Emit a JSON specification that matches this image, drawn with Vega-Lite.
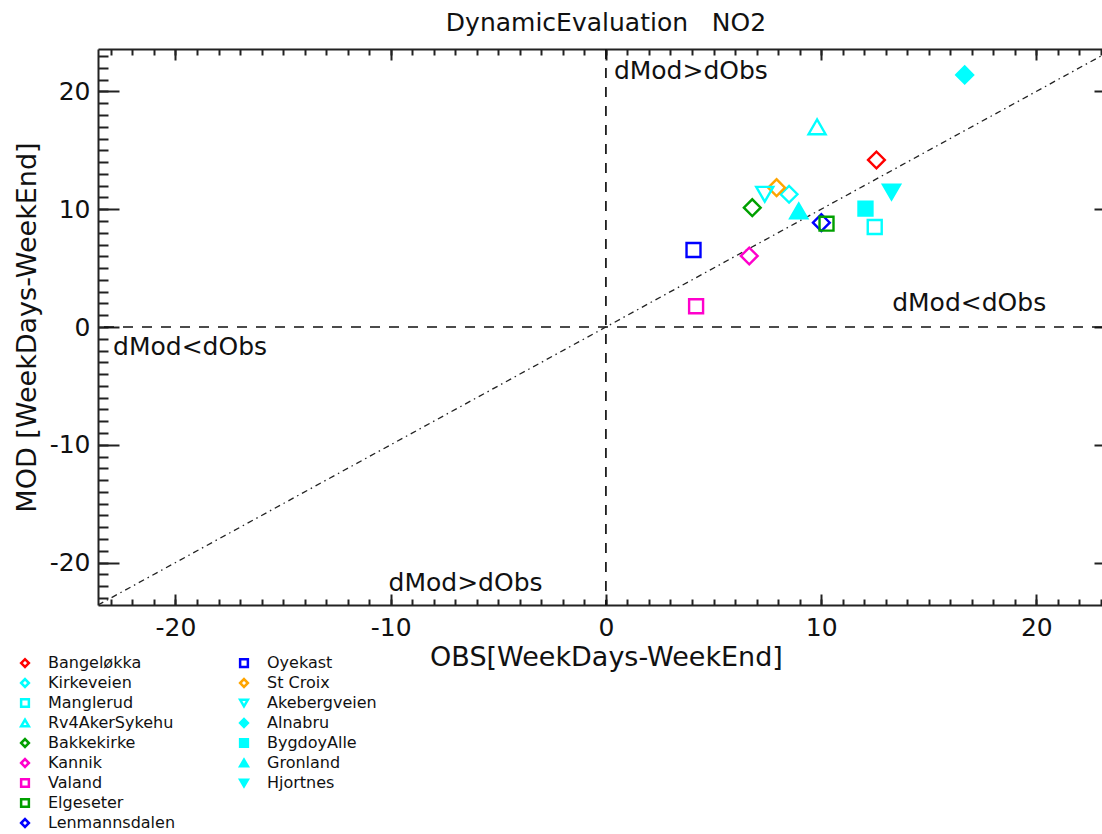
{
  "$schema": "https://vega.github.io/schema/vega-lite/v6.json",
  "width": 1004,
  "height": 556,
  "autosize": "none",
  "padding": {"left": 98, "top": 49, "right": 0, "bottom": 229},
  "background": "white",
  "title": {
    "text": "DynamicEvaluation\u00a0\u00a0\u00a0NO2",
    "font": "DejaVu Sans",
    "fontSize": 25,
    "fontWeight": "normal",
    "color": "#111",
    "anchor": "middle",
    "dx": 6,
    "offset": 12
  },
  "config": {
    "view": {"stroke": null},
    "axis": {
      "grid": false,
      "domainColor": "#222",
      "domainWidth": 2,
      "tickColor": "#222",
      "tickWidth": 2,
      "labelFont": "DejaVu Sans",
      "labelFontSize": 25,
      "labelColor": "#111",
      "titleFont": "DejaVu Sans",
      "titleFontSize": 27,
      "titleFontWeight": "normal",
      "titleColor": "#111"
    },
    "legend": {
      "title": null,
      "orient": "none",
      "legendX": -81,
      "legendY": 606,
      "columns": 2,
      "columnPadding": 59,
      "rowPadding": 2,
      "symbolSize": 60,
      "symbolStrokeWidth": 2.5,
      "labelOffset": 15,
      "labelFont": "DejaVu Sans",
      "labelFontSize": 16,
      "labelColor": "#111"
    }
  },
  "resolve": {"axis": {"x": "independent", "y": "independent"}},
  "layer": [
    {
      "data": {"values": [{"v": 0}]},
      "mark": {"type": "rule", "strokeDash": [10, 9], "strokeWidth": 1.7, "color": "#111"},
      "encoding": {
        "x": {
          "field": "v", "type": "quantitative",
          "scale": {"domain": [-23.6, 23.05], "nice": false, "zero": false},
          "axis": {
            "orient": "top", "title": null, "labels": false, "domain": true,
            "values": [-23,-22,-21,-20,-19,-18,-17,-16,-15,-14,-13,-12,-11,-10,-9,-8,-7,-6,-5,-4,-3,-2,-1,0,1,2,3,4,5,6,7,8,9,10,11,12,13,14,15,16,17,18,19,20,21,22,23],
            "tickSize": -6
          }
        }
      }
    },
    {
      "data": {"values": [{"v": 0}]},
      "mark": {"type": "rule", "strokeDash": [10, 9], "strokeWidth": 1.7, "color": "#111"},
      "encoding": {
        "y": {
          "field": "v", "type": "quantitative",
          "scale": {"domain": [-23.6, 23.6], "nice": false, "zero": false},
          "axis": {
            "orient": "right", "title": null, "labels": false, "domain": false,
            "values": [-20, -10, 0, 10, 20],
            "tickSize": -8
          }
        }
      }
    },
    {
      "data": {"values": [{"obs": -23.6, "mod": -23.6}, {"obs": 23.6, "mod": 23.6}]},
      "mark": {"type": "line", "clip": true, "strokeDash": [6, 4, 1.5, 4], "strokeWidth": 1.3, "color": "#222"},
      "encoding": {
        "x": {
          "field": "obs", "type": "quantitative",
          "scale": {"domain": [-23.6, 23.05], "nice": false, "zero": false},
          "axis": {
            "orient": "bottom", "title": null, "labels": false, "domain": false,
            "values": [-23,-22,-21,-20,-19,-18,-17,-16,-15,-14,-13,-12,-11,-10,-9,-8,-7,-6,-5,-4,-3,-2,-1,0,1,2,3,4,5,6,7,8,9,10,11,12,13,14,15,16,17,18,19,20,21,22,23],
            "tickSize": -6
          }
        },
        "y": {
          "field": "mod", "type": "quantitative",
          "scale": {"domain": [-23.6, 23.6], "nice": false, "zero": false},
          "axis": {
            "orient": "left", "title": null, "labels": false, "domain": false,
            "values": [-23,-22,-21,-20,-19,-18,-17,-16,-15,-14,-13,-12,-11,-10,-9,-8,-7,-6,-5,-4,-3,-2,-1,0,1,2,3,4,5,6,7,8,9,10,11,12,13,14,15,16,17,18,19,20,21,22,23],
            "tickSize": -10
          }
        }
      }
    },
    {
      "data": {"values": [
        {"station": "Bangeløkka", "obs": 12.57, "mod": 14.18},
        {"station": "Kirkeveien", "obs": 8.51, "mod": 11.27},
        {"station": "Manglerud", "obs": 12.49, "mod": 8.49},
        {"station": "Rv4AkerSykehu", "obs": 9.81, "mod": 16.99},
        {"station": "Bakkekirke", "obs": 6.8, "mod": 10.13},
        {"station": "Kannik", "obs": 6.66, "mod": 6.03},
        {"station": "Valand", "obs": 4.19, "mod": 1.76},
        {"station": "Elgeseter", "obs": 10.25, "mod": 8.77},
        {"station": "Lenmannsdalen", "obs": 10.01, "mod": 8.86},
        {"station": "Oyekast", "obs": 4.07, "mod": 6.54},
        {"station": "St Croix", "obs": 7.93, "mod": 11.83},
        {"station": "Akebergveien", "obs": 7.38, "mod": 11.27},
        {"station": "Alnabru", "obs": 16.67, "mod": 21.4},
        {"station": "BygdoyAlle", "obs": 12.06, "mod": 10.05},
        {"station": "Gronland", "obs": 8.96, "mod": 9.85},
        {"station": "Hjortnes", "obs": 13.27, "mod": 11.46}
      ]},
      "encoding": {
        "x": {
          "field": "obs", "type": "quantitative",
          "scale": {"domain": [-23.6, 23.05], "nice": false, "zero": false},
          "axis": {
            "orient": "bottom", "title": "OBS[WeekDays-WeekEnd]", "domain": true,
            "values": [-20, -10, 0, 10, 20],
            "labelExpr": "datum.value < 0 ? '-' + abs(datum.value) : '' + datum.value",
            "tickSize": -11, "labelPadding": 21, "titlePadding": 4, "titleX": 508
          }
        },
        "y": {
          "field": "mod", "type": "quantitative",
          "scale": {"domain": [-23.6, 23.6], "nice": false, "zero": false},
          "axis": {
            "orient": "left", "title": "MOD [WeekDays-WeekEnd]", "domain": true,
            "values": [-20, -10, 0, 10, 20],
            "labelExpr": "datum.value < 0 ? '-' + abs(datum.value) : '' + datum.value",
            "tickSize": -21, "labelPadding": 29, "titlePadding": 8
          }
        },
        "shape": {
          "field": "station", "type": "nominal",
          "scale": {
            "domain": ["Bangeløkka", "Kirkeveien", "Manglerud", "Rv4AkerSykehu", "Bakkekirke", "Kannik", "Valand", "Elgeseter", "Lenmannsdalen", "Oyekast", "St Croix", "Akebergveien", "Alnabru", "BygdoyAlle", "Gronland", "Hjortnes", " ", "  "],
            "range": ["diamond", "diamond", "square", "triangle-up", "diamond", "diamond", "square", "square", "diamond", "square", "diamond", "triangle-down", "diamond", "square", "triangle-up", "triangle-down", "circle", "circle"]
          }
        },
        "stroke": {
          "field": "station", "type": "nominal",
          "scale": {
            "domain": ["Bangeløkka", "Kirkeveien", "Manglerud", "Rv4AkerSykehu", "Bakkekirke", "Kannik", "Valand", "Elgeseter", "Lenmannsdalen", "Oyekast", "St Croix", "Akebergveien", "Alnabru", "BygdoyAlle", "Gronland", "Hjortnes", " ", "  "],
            "range": ["#ff0000", "#00ffff", "#00ffff", "#00ffff", "#00a000", "#ff00cc", "#ff00cc", "#00a000", "#0000ff", "#0000ff", "#ffa500", "#00ffff", "#00ffff", "#00ffff", "#00ffff", "#00ffff", "transparent", "transparent"]
          }
        },
        "fill": {
          "field": "station", "type": "nominal",
          "scale": {
            "domain": ["Bangeløkka", "Kirkeveien", "Manglerud", "Rv4AkerSykehu", "Bakkekirke", "Kannik", "Valand", "Elgeseter", "Lenmannsdalen", "Oyekast", "St Croix", "Akebergveien", "Alnabru", "BygdoyAlle", "Gronland", "Hjortnes", " ", "  "],
            "range": ["transparent", "transparent", "transparent", "transparent", "transparent", "transparent", "transparent", "transparent", "transparent", "transparent", "transparent", "transparent", "#00ffff", "#00ffff", "#00ffff", "#00ffff", "transparent", "transparent"]
          }
        }
      },
      "resolve": {"axis": {"x": "shared", "y": "shared"}},
      "layer": [
        {
          "transform": [{"filter": {"field": "station", "oneOf": ["Bangeløkka", "Kirkeveien", "Bakkekirke", "Kannik", "Lenmannsdalen", "St Croix", "Alnabru"]}}],
          "mark": {"type": "point", "size": 280, "strokeWidth": 2.4, "opacity": 1}
        },
        {
          "transform": [{"filter": {"field": "station", "oneOf": ["Manglerud", "Valand", "Elgeseter", "Oyekast", "BygdoyAlle"]}}],
          "mark": {"type": "point", "size": 195, "strokeWidth": 2.4, "opacity": 1}
        },
        {
          "transform": [{"filter": {"field": "station", "oneOf": ["Rv4AkerSykehu", "Akebergveien", "Gronland", "Hjortnes"]}}],
          "mark": {"type": "point", "size": 290, "strokeWidth": 2.4, "opacity": 1}
        }
      ]
    },
    {
      "data": {"values": [
        {"obs": 0.37, "mod": 21.7, "label": "dMod>dObs"},
        {"obs": 13.3, "mod": 2.0, "label": "dMod<dObs"},
        {"obs": -22.9, "mod": -1.7, "label": "dMod<dObs"},
        {"obs": -10.1, "mod": -21.7, "label": "dMod>dObs"}
      ]},
      "mark": {"type": "text", "align": "left", "baseline": "middle", "font": "DejaVu Sans", "fontSize": 25, "color": "#111"},
      "encoding": {
        "x": {
          "field": "obs", "type": "quantitative",
          "scale": {"domain": [-23.6, 23.05], "nice": false, "zero": false},
          "axis": {
            "orient": "top", "title": null, "labels": false, "domain": false,
            "values": [-20, -10, 0, 10, 20],
            "tickSize": -11
          }
        },
        "y": {
          "field": "mod", "type": "quantitative",
          "scale": {"domain": [-23.6, 23.6], "nice": false, "zero": false},
          "axis": null
        },
        "text": {"field": "label", "type": "nominal"}
      }
    }
  ]
}
